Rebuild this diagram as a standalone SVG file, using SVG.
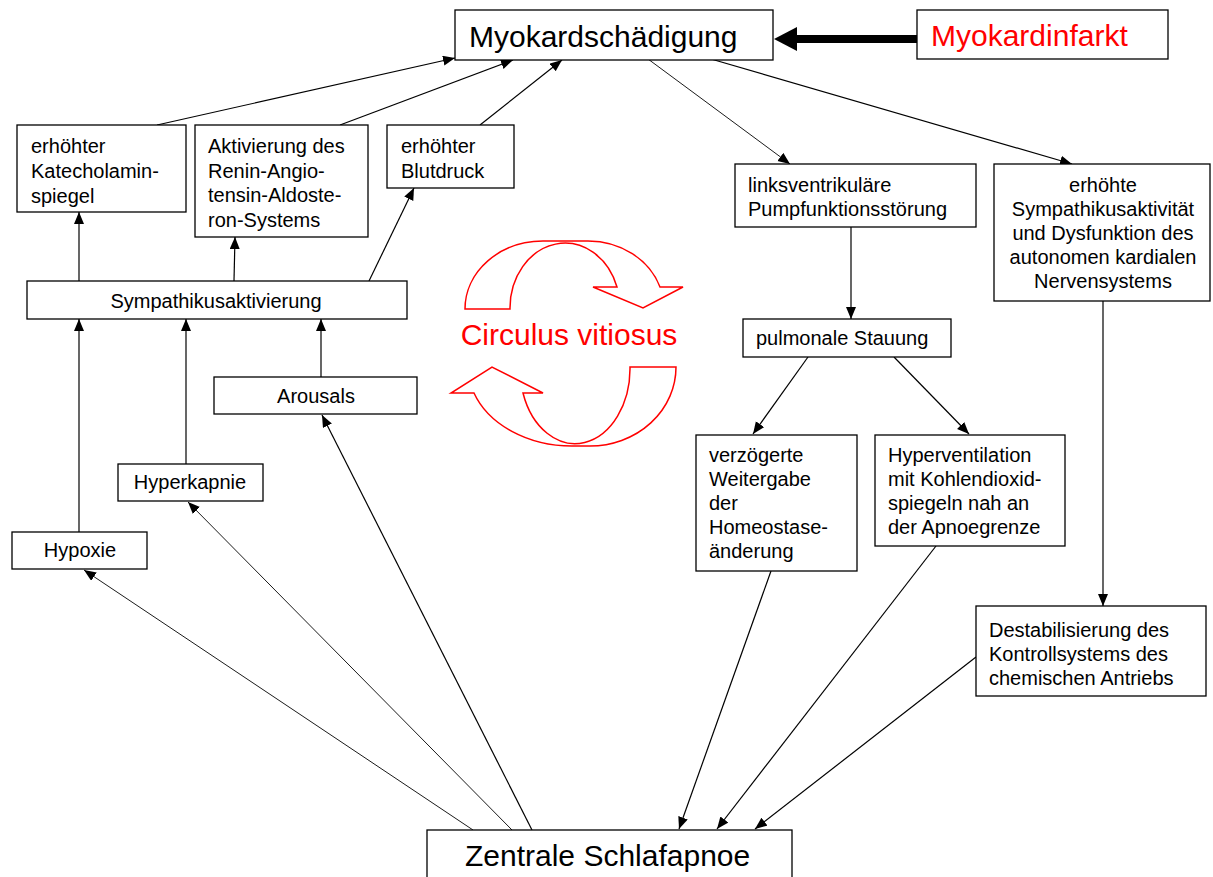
<svg xmlns="http://www.w3.org/2000/svg" width="1213" height="877" viewBox="0 0 1213 877">
<style>
.box{fill:#fff;stroke:#000;stroke-width:1.3}
.t{font-family:"Liberation Sans",Arial,sans-serif;font-size:20px;fill:#000}
.big{font-family:"Liberation Sans",Arial,sans-serif;font-size:30px;fill:#000}
.red{fill:#ff0000}
.c{stroke:#000;stroke-width:1.2;fill:none;marker-end:url(#ah)}
.thin{stroke-width:0.9}
.cyc{fill:none;stroke:#ff0000;stroke-width:1.5;stroke-linejoin:miter}
.mid{text-anchor:middle}
</style>
<defs>
<marker id="ah" markerUnits="userSpaceOnUse" markerWidth="14" markerHeight="12" refX="12" refY="5" orient="auto">
<path d="M0,0 L12,5 L0,10 Z" fill="#000"/>
</marker>
</defs>
<rect width="1213" height="877" fill="#fff"/>

<g id="connectors">
<line x1="917" y1="39" x2="794" y2="39" stroke="#000" stroke-width="8"/>
<path d="M774,39 L797,27 L797,51 Z" fill="#000"/>
<line class="c" x1="157" y1="125" x2="455" y2="58"/>
<line class="c" x1="340" y1="125" x2="513" y2="60"/>
<line class="c" x1="480" y1="125" x2="562" y2="60"/>
<line class="c thin" x1="648" y1="59" x2="790" y2="164"/>
<line class="c" x1="711" y1="59" x2="1072" y2="164"/>
<line class="c" x1="79" y1="281" x2="79" y2="212"/>
<line class="c" x1="234" y1="281" x2="235" y2="237"/>
<line class="c" x1="369" y1="281" x2="414" y2="188"/>
<line class="c" x1="79" y1="532" x2="79" y2="319"/>
<line class="c" x1="186" y1="464" x2="186" y2="319"/>
<line class="c" x1="321" y1="377" x2="321" y2="319"/>
<line class="c thin" x1="473" y1="830" x2="84" y2="570"/>
<line class="c thin" x1="512" y1="830" x2="188" y2="502"/>
<line class="c" x1="532" y1="830" x2="322" y2="415"/>
<line class="c" x1="851" y1="227" x2="851" y2="319"/>
<line class="c" x1="808" y1="357" x2="753" y2="434"/>
<line class="c" x1="894" y1="357" x2="969" y2="434"/>
<line class="c" x1="1103" y1="301" x2="1103" y2="606"/>
<line class="c" x1="771" y1="571" x2="679" y2="829"/>
<line class="c" x1="936" y1="546" x2="717" y2="829"/>
<line class="c" x1="976" y1="657" x2="755" y2="829"/>
</g>

<g id="circulus">
<path class="cyc" d="M465,309 A78,68 0 0 1 543,241 L588,241 A76,68 0 0 1 660,287 L683,287 L643,308 L593,287 L617,287 A55,65 0 0 0 510,309 Z"/>
<path class="cyc" d="M676,367 A86,79 0 0 1 590,446 L572,446 A104,79 0 0 1 474,393 L451,393 L492,367 L543,393 L523,393 A55,75 0 0 0 630,367 Z"/>
<text class="big red mid" x="569" y="345">Circulus vitiosus</text>
</g>

<g id="myokardschaedigung">
<rect class="box" x="455" y="10" width="318" height="50"/>
<text class="big" x="469" y="47">Myokardschädigung</text>
</g>
<g id="myokardinfarkt">
<rect class="box" x="917" y="10" width="251" height="49"/>
<text class="big red" x="931" y="46">Myokardinfarkt</text>
</g>
<g id="katecholamin">
<rect class="box" x="17" y="125" width="169" height="87"/>
<text class="t" x="31" y="153">erhöhter</text>
<text class="t" x="31" y="178">Katecholamin-</text>
<text class="t" x="31" y="203">spiegel</text>
</g>
<g id="raas">
<rect class="box" x="195" y="125" width="173" height="112"/>
<text class="t" x="208" y="153">Aktivierung des</text>
<text class="t" x="208" y="178">Renin-Angio-</text>
<text class="t" x="208" y="202">tensin-Aldoste-</text>
<text class="t" x="208" y="227">ron-Systems</text>
</g>
<g id="blutdruck">
<rect class="box" x="387" y="125" width="127" height="63"/>
<text class="t" x="401" y="153">erhöhter</text>
<text class="t" x="401" y="178">Blutdruck</text>
</g>
<g id="sympathikusaktivierung">
<rect class="box" x="27" y="281" width="380" height="38"/>
<text class="t mid" x="216" y="308">Sympathikusaktivierung</text>
</g>
<g id="arousals">
<rect class="box" x="214" y="377" width="203" height="37"/>
<text class="t mid" x="316" y="403">Arousals</text>
</g>
<g id="hyperkapnie">
<rect class="box" x="118" y="464" width="145" height="37"/>
<text class="t mid" x="190" y="489">Hyperkapnie</text>
</g>
<g id="hypoxie">
<rect class="box" x="12" y="532" width="135" height="37"/>
<text class="t mid" x="80" y="557">Hypoxie</text>
</g>
<g id="linksventrikulaer">
<rect class="box" x="735" y="164" width="241" height="63"/>
<text class="t" x="748" y="192">linksventrikuläre</text>
<text class="t" x="748" y="216">Pumpfunktionsstörung</text>
</g>
<g id="sympathikusaktivitaet">
<rect class="box" x="994" y="164" width="216" height="137"/>
<text class="t mid" x="1103" y="192">erhöhte</text>
<text class="t mid" x="1103" y="216">Sympathikusaktivität</text>
<text class="t mid" x="1103" y="240">und Dysfunktion des</text>
<text class="t mid" x="1103" y="264">autonomen kardialen</text>
<text class="t mid" x="1103" y="288">Nervensystems</text>
</g>
<g id="pulmonale">
<rect class="box" x="743" y="319" width="208" height="38"/>
<text class="t" x="756" y="345">pulmonale Stauung</text>
</g>
<g id="verzoegerte">
<rect class="box" x="696" y="435" width="161" height="136"/>
<text class="t" x="709" y="462">verzögerte</text>
<text class="t" x="709" y="486">Weitergabe</text>
<text class="t" x="709" y="510">der</text>
<text class="t" x="709" y="534">Homeostase-</text>
<text class="t" x="709" y="558">änderung</text>
</g>
<g id="hyperventilation">
<rect class="box" x="875" y="435" width="190" height="111"/>
<text class="t" x="888" y="462">Hyperventilation</text>
<text class="t" x="888" y="486">mit Kohlendioxid-</text>
<text class="t" x="888" y="510">spiegeln nah an</text>
<text class="t" x="888" y="534">der Apnoegrenze</text>
</g>
<g id="destabilisierung">
<rect class="box" x="976" y="606" width="230" height="90"/>
<text class="t" x="989" y="637">Destabilisierung des</text>
<text class="t" x="989" y="661">Kontrollsystems des</text>
<text class="t" x="989" y="685">chemischen Antriebs</text>
</g>
<g id="zentrale">
<rect class="box" x="427" y="830" width="365" height="60"/>
<text class="big" x="465" y="866">Zentrale Schlafapnoe</text>
</g>
</svg>
